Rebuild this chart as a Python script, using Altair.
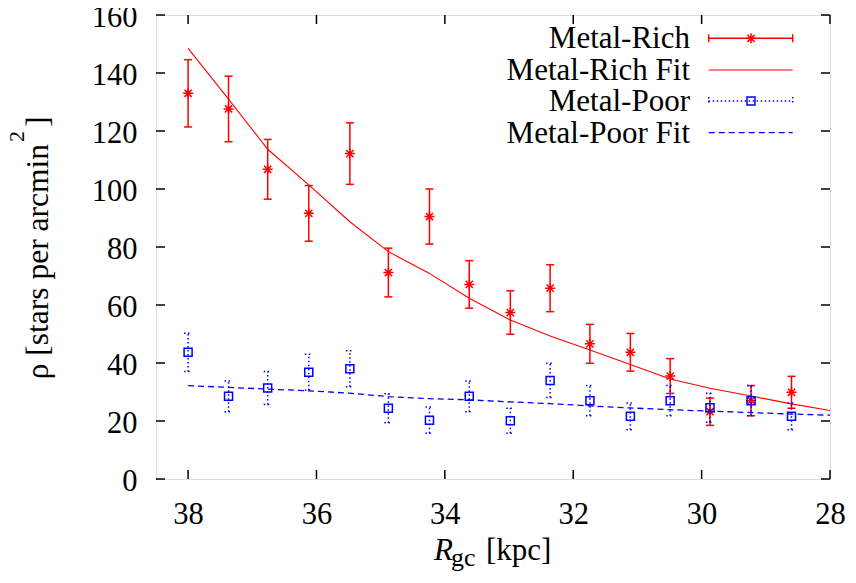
import altair as alt
import pandas as pd

# ---------------- data ----------------
r_gc = [38.0, 37.37, 36.76, 36.12, 35.48, 34.88, 34.24, 33.62,
        32.98, 32.36, 31.74, 31.11, 30.49, 29.87, 29.23, 28.6]
rich = [133.0, 127.6, 106.8, 91.6, 112.2, 71.2, 90.5, 67.1,
        57.4, 65.8, 46.6, 43.7, 35.5, 23.2, 27.0, 29.9]
rich_err = [11.6, 11.3, 10.3, 9.6, 10.6, 8.4, 9.5, 8.2,
            7.5, 8.1, 6.7, 6.5, 6.0, 4.7, 5.2, 5.5]
poor = [43.7, 28.5, 31.4, 36.8, 38.0, 24.4, 20.3, 28.5,
        20.1, 34.0, 27.0, 21.6, 27.0, 24.6, 27.0, 21.6]
poor_err = [6.6, 5.3, 5.7, 6.2, 6.2, 5.0, 4.5, 5.3,
            4.3, 5.9, 5.2, 4.6, 5.2, 5.0, 5.2, 4.6]

fit_r = [38.0, 37.37, 36.76, 36.12, 35.48, 34.88, 34.24, 33.62,
         32.98, 32.36, 31.74, 31.11, 30.49, 29.87, 29.23, 28.6, 28.0]
rich_fit = [148.5, 131.0, 113.7, 101.4, 88.7, 78.4, 70.9, 62.3,
            54.8, 49.3, 44.5, 39.5, 34.5, 31.3, 28.6, 25.9, 23.6]
poor_fit = [32.2, 31.6, 31.0, 30.4, 29.6, 28.4, 27.7, 27.3,
            26.6, 26.0, 25.2, 24.5, 23.9, 23.4, 22.9, 22.4, 22.0]

x_ticks = [38, 36, 34, 32, 30, 28]
y_ticks = [0, 20, 40, 60, 80, 100, 120, 140, 160]
legend_labels = ["Metal-Rich", "Metal-Rich Fit", "Metal-Poor", "Metal-Poor Fit"]

# ---------------- styling ----------------
FONT = "'Liberation Serif', 'Times New Roman', Times, serif"
RED = "#ff0000"
BLUE = "#0000ff"
W, H = 674, 464
FS_TICK = 30.5
FS = 31
STAR = "M-1,0L1,0M0,-1L0,1M-0.72,-0.72L0.72,0.72M-0.72,0.72L0.72,-0.72"
CAP_H = "M-1,0L1,0"
CAP_V = "M0,-1L0,1"

rich_df = pd.DataFrame({"r": r_gc, "v": rich,
                        "lo": [v - e for v, e in zip(rich, rich_err)],
                        "hi": [v + e for v, e in zip(rich, rich_err)]})
poor_df = pd.DataFrame({"r": r_gc, "v": poor,
                        "lo": [v - e for v, e in zip(poor, poor_err)],
                        "hi": [v + e for v, e in zip(poor, poor_err)]})
fit_df = pd.DataFrame({"r": fit_r, "rich": rich_fit, "poor": poor_fit})
xt_df = pd.DataFrame({"t": x_ticks})
yt_df = pd.DataFrame({"t": y_ticks})
one = pd.DataFrame({"a": [0]})

xscale = alt.Scale(domain=[28, 38.5], reverse=True, nice=False, zero=False)
yscale = alt.Scale(domain=[0, 160], nice=False, zero=True)
xaxis = alt.Axis(values=x_ticks, ticks=False, tickSize=0, domain=False, grid=False,
                 labelFont=FONT, labelFontSize=FS_TICK, labelColor="black",
                 labelPadding=20, labelFlush=False, labelOverlap=False,
                 title=None, format="d")
yaxis = alt.Axis(values=y_ticks, ticks=False, tickSize=0, domain=False, grid=False,
                 labelFont=FONT, labelFontSize=FS_TICK, labelColor="black",
                 labelPadding=19, labelFlush=False, labelOverlap=False,
                 labelBaseline="alphabetic", labelOffset=11.5,
                 title=None, format="d")


def X(f):
    return alt.X(f, type="quantitative", scale=xscale, axis=xaxis)


def Y(f):
    return alt.Y(f, type="quantitative", scale=yscale, axis=yaxis)


layers = []

# Metal-rich error bars
layers.append(alt.Chart(rich_df).mark_rule(color=RED, strokeWidth=1.5)
              .encode(x=X("r"), y=Y("lo"), y2="hi"))
for col in ["lo", "hi"]:
    layers.append(alt.Chart(rich_df).mark_point(shape=CAP_H, size=64, filled=False,
                                                color=RED, strokeWidth=1.5, opacity=1)
                  .encode(x=X("r"), y=Y(col)))
layers.append(alt.Chart(rich_df).mark_point(shape=STAR, size=100, filled=False,
                                            color=RED, strokeWidth=1.5, opacity=1)
              .encode(x=X("r"), y=Y("v")))
# Metal-rich fit
layers.append(alt.Chart(fit_df).mark_line(color=RED, strokeWidth=1.1)
              .encode(x=X("r"), y=Y("rich")))

# Metal-poor error bars (dotted)
layers.append(alt.Chart(poor_df).mark_rule(color=BLUE, strokeWidth=1.5, strokeDash=[1.5, 2.5])
              .encode(x=X("r"), y=Y("lo"), y2="hi"))
for col in ["lo", "hi"]:
    layers.append(alt.Chart(poor_df).mark_point(shape=CAP_H, size=64, filled=False,
                                                color=BLUE, strokeWidth=1.5,
                                                strokeDash=[1.5, 2.5], opacity=1)
                  .encode(x=X("r"), y=Y(col)))
layers.append(alt.Chart(poor_df).mark_point(shape="square", size=64, filled=False,
                                            color=BLUE, strokeWidth=1.5, opacity=1)
              .encode(x=X("r"), y=Y("v")))
# Metal-poor fit
layers.append(alt.Chart(fit_df).mark_line(color=BLUE, strokeWidth=1.3, strokeDash=[6, 4])
              .encode(x=X("r"), y=Y("poor")))

# inward ticks (mirrored on all sides)
TL = 9
layers.append(alt.Chart(xt_df).mark_rule(color="black", strokeWidth=1.5)
              .encode(x=X("t"), y=alt.value(H), y2=alt.value(H - TL)))
layers.append(alt.Chart(xt_df).mark_rule(color="black", strokeWidth=1.5)
              .encode(x=X("t"), y=alt.value(0), y2=alt.value(TL)))
layers.append(alt.Chart(yt_df).mark_rule(color="black", strokeWidth=1.5)
              .encode(y=Y("t"), x=alt.value(0), x2=alt.value(TL)))
layers.append(alt.Chart(yt_df).mark_rule(color="black", strokeWidth=1.5)
              .encode(y=Y("t"), x=alt.value(W), x2=alt.value(W - TL)))

# legend
LX_TEXT = 534
LX0, LX1, LXM = 552.7, 636.7, 595
rows_y = [23.3, 55, 86, 117.7]
for lab, yy in zip(legend_labels, rows_y):
    layers.append(alt.Chart(one).mark_text(text=lab, align="right", baseline="middle",
                                           font=FONT, fontSize=FS, color="black")
                  .encode(x=alt.value(LX_TEXT), y=alt.value(yy + 1)))
# Metal-Rich sample
layers.append(alt.Chart(one).mark_rule(color=RED, strokeWidth=1.5)
              .encode(x=alt.value(LX0), x2=alt.value(LX1), y=alt.value(rows_y[0])))
for xx in [LX0, LX1]:
    layers.append(alt.Chart(one).mark_point(shape=CAP_V, size=64, filled=False, color=RED,
                                            strokeWidth=1.5, opacity=1)
                  .encode(x=alt.value(xx), y=alt.value(rows_y[0])))
layers.append(alt.Chart(one).mark_point(shape=STAR, size=100, filled=False, color=RED,
                                        strokeWidth=1.5, opacity=1)
              .encode(x=alt.value(LXM), y=alt.value(rows_y[0])))
# Metal-Rich Fit sample
layers.append(alt.Chart(one).mark_rule(color=RED, strokeWidth=1.1)
              .encode(x=alt.value(LX0), x2=alt.value(LX1), y=alt.value(rows_y[1])))
# Metal-Poor sample
layers.append(alt.Chart(one).mark_rule(color=BLUE, strokeWidth=1.5, strokeDash=[1.5, 2.5])
              .encode(x=alt.value(LX0), x2=alt.value(LX1), y=alt.value(rows_y[2])))
for xx in [LX0, LX1]:
    layers.append(alt.Chart(one).mark_point(shape=CAP_V, size=64, filled=False, color=BLUE,
                                            strokeWidth=1.5, strokeDash=[1.5, 2.5], opacity=1)
                  .encode(x=alt.value(xx), y=alt.value(rows_y[2])))
layers.append(alt.Chart(one).mark_point(shape="square", size=64, filled=False, color=BLUE,
                                        strokeWidth=1.5, opacity=1)
              .encode(x=alt.value(LXM), y=alt.value(rows_y[2])))
# Metal-Poor Fit sample
layers.append(alt.Chart(one).mark_rule(color=BLUE, strokeWidth=1.3, strokeDash=[6, 4])
              .encode(x=alt.value(LX0), x2=alt.value(LX1), y=alt.value(rows_y[3])))

# x-axis title: R_gc [kpc]
layers.append(alt.Chart(one).mark_text(text="R", align="left", baseline="alphabetic",
                                       font=FONT, fontSize=FS, fontStyle="italic", color="black")
              .encode(x=alt.value(278), y=alt.value(545)))
layers.append(alt.Chart(one).mark_text(text="gc", align="left", baseline="alphabetic",
                                       font=FONT, fontSize=26, color="black")
              .encode(x=alt.value(295), y=alt.value(551)))
layers.append(alt.Chart(one).mark_text(text="[kpc]", align="left", baseline="alphabetic",
                                       font=FONT, fontSize=FS, color="black")
              .encode(x=alt.value(330), y=alt.value(545)))

# y-axis title: rho [stars per arcmin^2]
layers.append(alt.Chart(one).mark_text(text="ρ [stars per arcmin", align="right",
                                       baseline="alphabetic", angle=270,
                                       font=FONT, fontSize=31.5, color="black")
              .encode(x=alt.value(-108), y=alt.value(129)))
layers.append(alt.Chart(one).mark_text(text="2", align="left", baseline="alphabetic", angle=270,
                                       font=FONT, fontSize=22, color="black")
              .encode(x=alt.value(-132), y=alt.value(127)))
layers.append(alt.Chart(one).mark_text(text="]", align="left", baseline="alphabetic", angle=270,
                                       font=FONT, fontSize=31.5, color="black")
              .encode(x=alt.value(-108), y=alt.value(112)))

chart = (alt.layer(*layers)
         .properties(width=W, height=H,
                     autosize=alt.AutoSizeParams(type="none"),
                     padding={"left": 148, "top": 7, "right": 18, "bottom": 100})
         .configure_view(stroke="black", strokeWidth=2)
         .configure(background="white"))

chart.save("out.html", embed_options={"renderer": "svg", "actions": False})
